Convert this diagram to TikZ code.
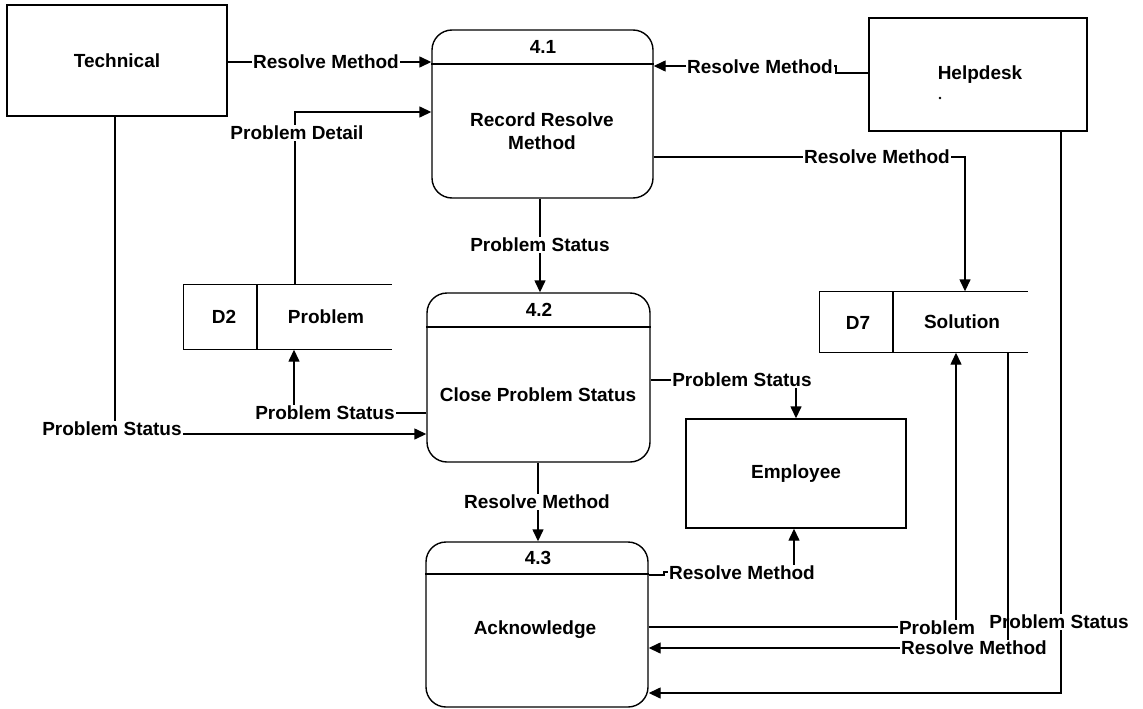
\documentclass[tikz,border=0pt]{standalone}
\usepackage{fontspec}
\setmainfont{Liberation Sans}
\usetikzlibrary{arrows.meta}
\begin{document}
\begin{tikzpicture}[x=1pt,y=-1pt,
  font=\fontsize{19}{23}\selectfont\bfseries,
  line width=1.4pt,
  entity/.style={draw, rectangle, inner sep=0pt, align=center},
  proc/.style={draw, rectangle, rounded corners=20pt, inner sep=0pt},
  store/.style={rectangle, inner sep=0pt},
  flow/.style={-{Triangle[length=12pt,width=11pt]}},
  lbl/.style={fill=white, inner sep=1pt},
  txt/.style={inner sep=0pt, align=center}]
\useasboundingbox (0,0) rectangle (1143,709);

% external entities
\node[entity, minimum width=220pt, minimum height=111pt] (tech) at (117,60.5) {Technical};
\node[entity, minimum width=218pt, minimum height=113pt] (hd) at (978,74.5) {};
\node[txt] (hdt) at (980,75) {Helpdesk};
\fill (940,98) circle (1.3pt);
\node[entity, minimum width=220pt, minimum height=109pt] (emp) at (796,473.5) {Employee};

% processes
\node[proc, minimum width=221pt, minimum height=168pt] (p41) at (542.5,114) {};
\draw (p41.west |- 0,64) -- (p41.east |- 0,64);
\node[txt] (p41n) at (543,47) {4.1};
\node[txt] (p41t) at (542,131) {Record Resolve\\Method};

\node[proc, minimum width=223pt, minimum height=169pt] (p42) at (538.5,377.5) {};
\draw (p42.west |- 0,327) -- (p42.east |- 0,327);
\node[txt] (p42n) at (539,310) {4.2};
\node[txt] (p42t) at (538,395) {Close Problem Status};

\node[proc, minimum width=222pt, minimum height=165pt] (p43) at (537,624.5) {};
\draw (p43.west |- 0,574) -- (p43.east |- 0,574);
\node[txt] (p43n) at (538,558) {4.3};
\node[txt] (p43t) at (535,630) {Acknowledge};

% data stores (open on the right)
\node[store, minimum width=207pt, minimum height=64pt] (d2) at (287.5,317) {};
\draw (d2.north east) -- (d2.north west) -- (d2.south west) -- (d2.south east);
\draw (d2.north -| 257,0) -- (d2.south -| 257,0);
\node[txt] (d2id) at (224,317) {D2};
\node[txt] (d2t) at (326,317) {Problem};

\node[store, minimum width=207pt, minimum height=60pt] (d7) at (923.5,322) {};
\draw (d7.north east) -- (d7.north west) -- (d7.south west) -- (d7.south east);
\draw (d7.north -| 893,0) -- (d7.south -| 893,0);
\node[txt] (d7id) at (858,323) {D7};
\node[txt] (d7t) at (962,322) {Solution};

% data flows
\draw[flow] (tech.east |- 0,62) -- (p41.west |- 0,62);
\draw[flow] (hd.west |- 0,73) -- (836,73) -- (836,66) -- (p41.east |- 0,66);
\draw[flow] (d2.north -| 295,0) -- (295,112) -- (p41.west |- 0,112);
\draw[flow] (p41.east |- 0,157) -- (965,157) -- (d7.north -| 965,0);
\draw[flow] (p41.south -| 540,0) -- (p42.north -| 540,0);
\draw[flow] (p42.west |- 0,413) -- (294,413) -- (d2.south -| 294,0);
\draw[flow] (tech.south -| 115,0) -- (115,434) -- (p42.west |- 0,434);
\draw[flow] (p42.east |- 0,380) -- (796,380) -- (emp.north -| 796,0);
\draw[flow] (p42.south -| 538,0) -- (p43.north -| 538,0);
\draw[flow] (p43.east |- 0,575) -- (664,575) -- (664,572) -- (794,572) -- (emp.south -| 794,0);
\draw[flow] (p43.east |- 0,627) -- (956,627) -- (d7.south -| 956,0);
\draw[flow] (hd.south -| 1061,0) -- (1061,693) -- (p43.east |- 0,693);

% flow labels
\node[lbl] (l1) at (326,62) {Resolve Method};
\node[lbl] (l2) at (760,67) {Resolve Method};
\node[lbl] (l3) at (297,133) {Problem Detail};
\node[lbl] (l4) at (877,157) {Resolve Method};
\node[lbl] (l5) at (540,245) {Problem Status};
\node[lbl] (l6) at (325,413) {Problem Status};
\node[lbl] (l7) at (112,429) {Problem Status};
\node[lbl] (l8) at (742,380) {Problem Status};
\node[lbl] (l9) at (537,502) {Resolve Method};
\node[lbl] (l10) at (742,573) {Resolve Method};
\node[lbl] (l11) at (937,628) {Problem};
\node[lbl] (l12) at (1059,622) {Problem Status};

% solution back to acknowledge, crossing the status label
\draw[flow] (d7.south -| 1008,0) -- (1008,648) -- (p43.east |- 0,648);
\node[lbl] (l13) at (974,648) {Resolve Method};
\end{tikzpicture}
\end{document}
